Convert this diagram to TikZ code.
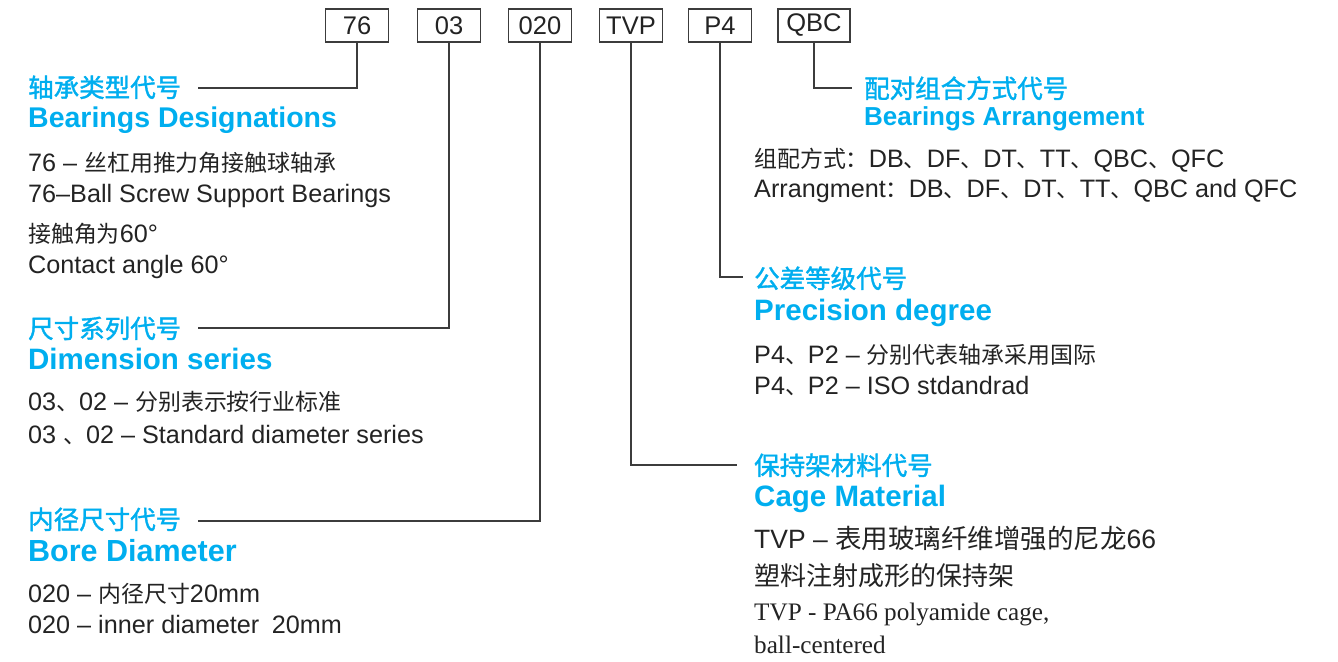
\documentclass[tikz,border=0pt]{standalone}
\usepackage{fontspec}
\setmainfont{Liberation Sans}
\newfontfamily\cjk[Scale=0.91]{Noto Sans CJK SC}
\newfontfamily\cjkhead[FakeBold=1.5]{Noto Sans CJK SC}
\newfontfamily\cjkbig{Noto Sans CJK SC}
\newfontfamily\seriftext{Liberation Serif}
\usetikzlibrary{positioning}
\definecolor{codecyan}{RGB}{0,174,239}
\definecolor{inkgray}{RGB}{35,35,35}
\definecolor{linegray}{RGB}{60,60,60}

\begin{document}
\begin{tikzpicture}[x=1pt, y=-1pt,
    codebox/.style={draw=linegray, line width=1.3pt, minimum width=63pt, minimum height=33pt,
      inner sep=0pt, text=inkgray, font=\fontsize{25.5}{25}\selectfont},
    lead/.style={draw=linegray, line width=1.3pt},
    headcn/.style={anchor=base west, inner sep=0pt, text=codecyan, font=\cjkhead\fontsize{25.5}{26}\selectfont},
    headen/.style={anchor=base west, inner sep=0pt, text=codecyan, font=\bfseries\fontsize{29.5}{30}\selectfont},
    body/.style={anchor=base west, inner sep=0pt, text=inkgray, font=\fontsize{25.2}{26}\selectfont},
  ]
      \useasboundingbox (0,0) rectangle (1338,661);

      % code boxes along the top
      \foreach \x/\t in {357/76, 449/03, 540/020, 631/TVP, 720/P4} {
        \node[codebox] (b\t) at (\x,25.5) {\t};
      }
      \node[codebox, minimum width=72pt] (bQBC) at (814,25.5) {QBC};

      % bearing type
      \node[headcn] (h76) at (28,97) {轴承类型代号};
      \node[headen, font=\bfseries\fontsize{28.5}{30}\selectfont] (t76) at (28,127.5) {Bearings Designations};
      \node[body] (d76a) at (28,171) {76 – {\cjk 丝杠用推力角接触球轴承}};
      \node[body] (d76b) at (28,202) {76–Ball Screw Support Bearings};
      \node[body] (d76c) at (28,242) {{\cjk 接触角为}60°};
      \node[body] (d76d) at (28,273) {Contact angle 60°};

      % dimension series
      \node[headcn] (h03) at (28,338) {尺寸系列代号};
      \node[headen] (t03) at (28,369) {Dimension series};
      \node[body] (d03a) at (28,410) {03{\cjk 、}02 – {\cjk 分别表示按行业标准}};
      \node[body] (d03b) at (28,443) {03 {\cjk 、}02 – Standard diameter series};

      % bore diameter
      \node[headcn] (h020) at (28,529) {内径尺寸代号};
      \node[headen, font=\bfseries\fontsize{30.5}{31}\selectfont] (t020) at (28,561) {Bore Diameter};
      \node[body] (d020a) at (28,602) {020 – {\cjk 内径尺寸}20mm};
      \node[body] (d020b) at (28,633) {020 – inner diameter\enspace 20mm};

      % arrangement
      \node[headcn] (hQBC) at (864,98) {配对组合方式代号};
      \node[headen, font=\bfseries\fontsize{26}{27}\selectfont] (tQBC) at (864,125) {Bearings Arrangement};
      \node[body] (dQBCa) at (754,167) {{\cjk 组配方式：}DB{\cjk 、}DF{\cjk 、}DT{\cjk 、}TT{\cjk 、}QBC{\cjk 、}QFC};
      \node[body] (dQBCb) at (754,197) {Arrangment{\cjk ：}DB{\cjk 、}DF{\cjk 、}DT{\cjk 、}TT{\cjk 、}QBC and QFC};

      % precision
      \node[headcn] (hP4) at (754,288) {公差等级代号};
      \node[headen] (tP4) at (754,320) {Precision degree};
      \node[body] (dP4a) at (754,363) {P4{\cjk 、}P2 – {\cjk 分别代表轴承采用国际}};
      \node[body] (dP4b) at (754,394) {P4{\cjk 、}P2 – ISO stdandrad};

      % cage
      \node[headcn] (hTVP) at (754,475) {保持架材料代号};
      \node[headen] (tTVP) at (754,506) {Cage Material};
      \node[body, font=\fontsize{26.5}{28}\selectfont] (dTVPa) at (754,548) {TVP – {\cjkbig 表用玻璃纤维增强的尼龙}66};
      \node[body, font=\cjkbig\fontsize{26}{28}\selectfont] (dTVPb) at (754,585) {塑料注射成形的保持架};
      \node[body, font=\seriftext\fontsize{25.2}{27}\selectfont] (dTVPc) at (754,620) {TVP - PA66 polyamide cage,};
      \node[body, font=\seriftext\fontsize{25.2}{27}\selectfont] (dTVPd) at (754,653) {ball-centered};

      % leader lines
      \coordinate (e76) at (198,88);
      \coordinate (e03) at (198,328);
      \coordinate (e020) at (198,521);
      \coordinate (eTVP) at (737,465);
      \coordinate (eP4) at (743,277);
      \coordinate (eQBC) at (852,88);
      \draw[lead] (b76.south) |- (e76);
      \draw[lead] (b03.south) |- (e03);
      \draw[lead] (b020.south) |- (e020);
      \draw[lead] (bTVP.south) |- (eTVP);
      \draw[lead] (bP4.south) |- (eP4);
      \draw[lead] (bQBC.south) |- (eQBC);
    \end{tikzpicture}
\end{document}
